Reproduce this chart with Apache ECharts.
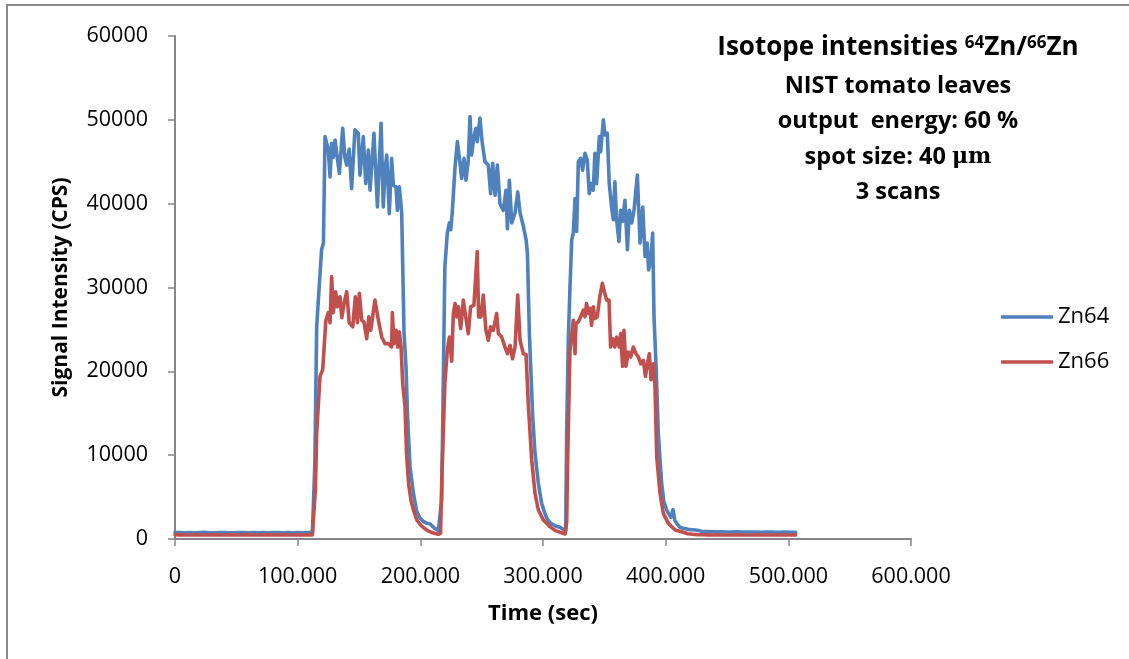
<!DOCTYPE html>
<html><head><meta charset="utf-8">
<script src="https://cdn.jsdelivr.net/npm/echarts@6/dist/echarts.min.js"></script>
<style>html,body{margin:0;padding:0;background:#fff}#c{width:1129px;height:659px}</style>
</head><body><div id="c"></div>
<script>
const xTicks = [0, 100, 200, 300, 400, 500, 600];
const yTicks = [0, 10000, 20000, 30000, 40000, 50000, 60000];
const seriesNames = ['Zn64', 'Zn66'];
const titleLines = ['NIST tomato leaves', 'output  energy: 60 %', 'spot size: 40 ', '3 scans'];

// [time (sec), signal (CPS)]
const zn64 = [
[0,780],[4,760],[8,750],[12,770],[16,740],[20,760],[24,790],[28,750],[32,730],[36,760],[40,770],[44,740],[48,750],[52,780],[56,760],[60,740],[64,770],[68,750],[72,760],[76,740],[80,780],[84,760],[88,750],[92,770],[96,740],[100,760],[104,750],[108,770],[112,760],
[113,820],[114,9000],[115.5,25300],[117.5,30000],[119.5,34500],[121,35300],[122.3,48000],[125,46400],[126.4,43200],[127.7,47200],[129,45500],[130.5,47600],[132,45800],[134,43600],[136.7,49000],[138.5,45500],[140,44600],[142,46500],[144,41800],[146.7,48800],[149.4,48400],[150.8,43400],[153.5,48000],[155.5,42400],[157.6,46400],[159,41600],[162.2,48400],[165,39600],[168,49600],[169.8,39600],[171.2,44000],[172.6,45800],[174.7,38800],[176.6,45400],[178,42200],[180.2,42000],[181.3,39200],[182.9,42000],[184.8,38900],[186.7,24600],[188.3,20600],[189.6,14600],[191.6,8600],[194.3,5500],[197,3300],[199.7,2500],[202.4,2100],[205,1900],[208,1800],[210,1500],[212,1250],[214.7,1000],[216,1100],[217.4,4650],
[220,32500],[222,36500],[223.7,37700],[224.8,36900],[226,38900],[228.3,44400],[230.2,47400],[232.4,44800],[233.7,43000],[235.6,45400],[237.2,42800],[239.1,45200],[240.5,50400],[241.8,45800],[243.7,48000],[245.4,49000],[246.4,47400],[248.6,50200],[250.5,47200],[252.7,45000],[255.4,44600],[257.3,41200],[259,44800],[260.9,41000],[262.8,44600],[264.9,40000],[267.7,39200],[269.8,41600],[271,37000],[272.6,42800],[274.5,37700],[277.2,38900],[279.4,41400],[281.3,38900],[284,37300],[286.2,35700],[287.3,34100],[288.9,24500],[291.6,14600],[293.5,10200],[296.2,6650],[298.9,4250],[301,3300],[303,2500],[306,1900],[308.4,1700],[311,1500],[313.9,1400],[316,1200],[318.5,1000],
[319.3,12600],[320.6,23700],[322,30000],[323.4,35700],[324.7,36500],[326.1,40600],[327.4,36700],[328.8,45000],[330.7,45400],[332.3,44000],[334.2,46000],[336.1,45200],[337.7,41200],[339.6,42400],[341,41600],[342.3,46000],[343.7,42400],[345.9,48000],[347,46200],[349.2,50000],[350.5,48200],[352.4,48400],[354,42400],[355.9,39600],[357.3,38100],[358.6,42600],[360,38100],[361.9,35500],[363.3,39200],[364.9,37900],[366.8,40400],[368.8,34500],[370.4,39200],[372.3,37700],[374.2,39200],[376.9,43400],[379.1,35300],[381.3,39600],[383.2,33700],[385,35300],[386.1,32100],[388,33300],[389.4,36500],[390.5,26500],[392.2,20600],[394,12600],[396.7,6650],[398.5,4500],[400.8,3460],[402.5,3000],[404.2,2600],[406,3500],[407.5,2200],[409,1870],[411.7,1390],[414.4,1270],[418,1150],[422,1100],[426,1050],
[430,900],[434,880],[438,870],[442,850],[446,860],[450,840],[454,830],[458,850],[462,820],[466,840],[470,830],[474,820],[478,810],[482,830],[486,820],[490,800],[494,810],[498,820],[502,800],[506,790]
];

const zn66 = [
[0,500],[4,490],[8,480],[12,470],[16,490],[20,480],[24,470],[28,480],[32,490],[36,470],[40,480],[44,490],[48,470],[52,480],[56,470],[60,490],[64,480],[68,470],[72,480],[76,490],[80,470],[84,480],[88,490],[92,480],[96,470],[100,480],[104,490],[108,470],[112,480],
[113,500],[114.5,6000],[115.5,12600],[118.2,19400],[120.4,20200],[123,26100],[125,27000],[126.4,25800],[127.7,31300],[129,27000],[131,29500],[132.3,27700],[134.5,28900],[136,26400],[137.8,28100],[140,29500],[142,25800],[144.9,25300],[147,28900],[148.7,25800],[150.3,29300],[152.2,26100],[154,25900],[156.3,23900],[158,26500],[159.6,24900],[163,28500],[165.8,26100],[168.5,24100],[171.2,23300],[173.9,23300],[176.6,22900],[177.2,27000],[178.5,23300],[180.2,24900],[181.6,22900],[182.9,24700],[184.3,22900],[185.6,18600],[187.5,15800],[188.8,10000],[190.5,6500],[192.5,4500],[194.3,3500],[197,2300],[200,1700],[203,1300],[206,1000],[209,800],[212,650],[214.7,560],[216.5,700],[217.4,6650],
[220,18600],[222,22500],[223.7,24100],[225.6,21200],[226.9,26900],[228.3,28100],[229.7,26500],[231,27700],[232.9,25100],[235,28500],[237,26500],[239.1,24500],[241,27700],[243.7,27900],[246.4,34300],[247.5,26500],[249.4,26500],[251.3,29100],[253.5,24900],[255.4,23700],[257.3,25300],[259.5,24900],[262.2,26900],[263.6,24500],[266.3,24100],[269,22900],[271,22100],[273.2,23100],[275.1,21500],[277.2,22900],[279.4,29100],[281.3,23700],[284,22100],[286.2,22000],[288.1,15800],[290.8,9400],[293.5,5450],[296.2,3460],[300.3,2270],[305.7,1470],[310,1000],[314,800],[318,600],
[319.3,2000],[320,8600],[322,22500],[324.7,26100],[326.1,22100],[326.9,25700],[328.8,25900],[330.7,26500],[332.8,27300],[334.2,26500],[335.5,28100],[336.9,26900],[338.3,27500],[339.6,25500],[341,27700],[342.3,26300],[344.2,26500],[346.5,29100],[348.4,30500],[350,29500],[351.9,28500],[353.8,28500],[355.1,22900],[356.8,23900],[358.6,22900],[360,24100],[362.2,22900],[363.3,24500],[364.9,20600],[366,24900],[367.6,20600],[369.6,22300],[371.5,21700],[373.6,22900],[375.8,22100],[377.8,21700],[379.7,20900],[381.8,21300],[383.5,19400],[385.1,20900],[386.7,22100],[388,19000],[390,20900],[391.3,18200],[392.7,9800],[395.4,5450],[398.1,3060],[402.2,1870],[407.7,1070],[413,870],[418,620],[422,560],[426,520],
[430,500],[434,490],[438,480],[442,490],[446,480],[450,470],[454,480],[458,490],[462,470],[466,480],[470,470],[474,480],[478,490],[482,470],[486,480],[490,470],[494,480],[498,470],[502,480],[506,470]
];

const FONT = 'Open Sans';
const AXIS_GRAY = '#868686';
const chart = echarts.init(document.getElementById('c'), null, {renderer: 'canvas'});

const axisCommon = {
  axisLine: {show: true, onZero: false, lineStyle: {color: AXIS_GRAY, width: 2}},
  axisTick: {show: true, length: 7, lineStyle: {color: AXIS_GRAY, width: 1.5}},
  splitLine: {show: false},
  nameLocation: 'middle'
};

const titleY = [86, 121, 157, 192];
const graphics = [
  {type: 'rect', shape: {x: 7, y: 5, width: 1300, height: 800}, style: {fill: 'none', stroke: '#8a8a8a', lineWidth: 2}, silent: true},
  {type: 'text', x: 898, y: 48, style: {
    text: 'Isotope intensities {sup|64}Zn/{sup|66}Zn',
    fontFamily: FONT, fontWeight: 'bold', fontSize: 26, fill: '#000',
    align: 'center', verticalAlign: 'middle',
    rich: {sup: {fontFamily: FONT, fontWeight: 'bold', fontSize: 17, verticalAlign: 'top', lineHeight: 17, padding: [0, 0, 14, 0]}}
  }}
];
titleLines.forEach((t, i) => {
  const style = {text: t, fontFamily: FONT, fontWeight: 'bold', fontSize: 23.5, fill: '#000', align: 'center', verticalAlign: 'middle'};
  if (i === 2) {
    style.text = t + '{mu|μm}';
    style.rich = {mu: {fontFamily: 'DejaVu Serif', fontWeight: 'bold', fontSize: 22}};
  }
  graphics.push({type: 'text', x: 898, y: titleY[i], style});
});

chart.setOption({
  animation: false,
  backgroundColor: '#fff',
  grid: {left: 175, right: 218, top: 36, bottom: 120, containLabel: false},
  legend: {
    orient: 'vertical', left: 996, top: 300,
    icon: 'rect', itemWidth: 52, itemHeight: 3.5, itemGap: 21,
    textStyle: {fontFamily: FONT, fontSize: 22, color: '#000', lineHeight: 24},
    data: seriesNames
  },
  xAxis: Object.assign({}, axisCommon, {
    type: 'value', min: xTicks[0], max: xTicks[xTicks.length - 1], interval: xTicks[1] - xTicks[0],
    name: 'Time (sec)', nameGap: 64,
    nameTextStyle: {fontFamily: FONT, fontWeight: 'bold', fontSize: 22, color: '#000'},
    axisLabel: {margin: 27, fontFamily: FONT, fontSize: 21.5, color: '#000',
      formatter: v => v === 0 ? '0' : v.toFixed(3)}
  }),
  yAxis: Object.assign({}, axisCommon, {
    type: 'value', min: yTicks[0], max: yTicks[yTicks.length - 1], interval: yTicks[1] - yTicks[0],
    name: 'Signal Intensity (CPS)', nameGap: 103, nameRotate: 90,
    nameTextStyle: {fontFamily: FONT, fontWeight: 'bold', fontSize: 21, color: '#000'},
    axisLabel: {margin: 27, fontFamily: FONT, fontSize: 21.5, color: '#000', formatter: v => String(v)}
  }),
  graphic: graphics,
  series: [
    {name: seriesNames[0], type: 'line', data: zn64, symbol: 'none', lineStyle: {color: '#4F81BD', width: 3.6, join: 'round', cap: 'round'}, itemStyle: {color: '#4F81BD'}, z: 2},
    {name: seriesNames[1], type: 'line', data: zn66, symbol: 'none', lineStyle: {color: '#C0504D', width: 3.6, join: 'round', cap: 'round'}, itemStyle: {color: '#C0504D'}, z: 3}
  ]
});
</script>
</body></html>
